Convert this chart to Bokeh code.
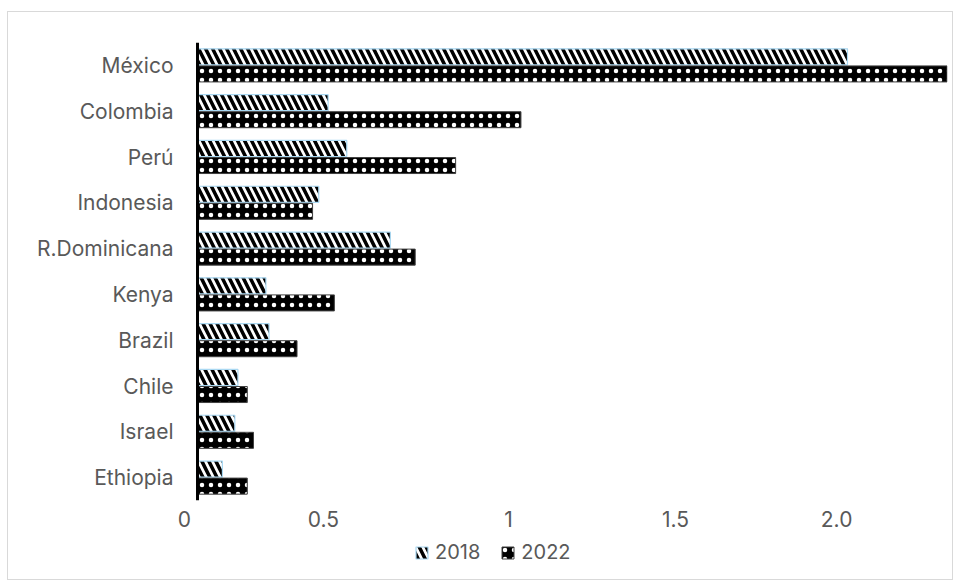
from bokeh.plotting import figure
from bokeh.layouts import column
from bokeh.models import (ColumnDataSource, FactorRange, Range1d, Span, Legend,
                          LegendItem, FixedTicker)
from bokeh.transform import dodge
from bokeh.embed import file_html
from bokeh.resources import INLINE

# Data
countries = ["México", "Colombia", "Perú", "Indonesia", "R.Dominicana",
             "Kenya", "Brazil", "Chile", "Israel", "Ethiopia"]
values_2018 = [2.09, 0.42, 0.48, 0.39, 0.62, 0.22, 0.23, 0.13, 0.12, 0.08]
values_2022 = [2.41, 1.04, 0.83, 0.37, 0.70, 0.44, 0.32, 0.16, 0.18, 0.16]
tick_values = [-0.042, 0.405, 1.0, 1.537, 2.055]
tick_labels = ["0", "0.5", "1", "1.5", "2.0"]

TEXT_COLOR = "#595959"
FONT = "Inter"

# Bar styles shared by the chart and its legend strip
STYLE_2018 = dict(fill_color="white", hatch_pattern="left_diagonal_line",
                  hatch_color="black", hatch_weight=3.5, hatch_scale=14,
                  line_color="#a9d8f2", line_width=1.2)
STYLE_2022 = dict(fill_color="black", hatch_pattern="dot",
                  hatch_color="white", hatch_weight=1, hatch_scale=9,
                  line_color="#404040", line_width=1)

source = ColumnDataSource(dict(country=countries, v2018=values_2018, v2022=values_2022))

p = figure(width=944, height=524,
           y_range=FactorRange(factors=list(reversed(countries))),
           x_range=Range1d(-0.0579, 2.4116),
           output_backend="svg", toolbar_location=None,
           min_border_left=171, min_border_right=5,
           min_border_top=30, min_border_bottom=36)
p.outline_line_color = None
p.xgrid.visible = False
p.ygrid.visible = False

p.hbar(y=dodge("country", 0.186, range=p.y_range), left=0, right="v2018",
       height=0.35, source=source, **STYLE_2018)
p.hbar(y=dodge("country", -0.186, range=p.y_range), left=0, right="v2022",
       height=0.35, source=source, **STYLE_2022)

# Vertical baseline at zero
p.add_layout(Span(location=0, dimension="height", line_color="black", line_width=3))

# X axis
p.xaxis.ticker = FixedTicker(ticks=tick_values)
p.xaxis.major_label_overrides = {t: l for t, l in zip(tick_values, tick_labels)}
p.xaxis.axis_line_color = None
p.xaxis.major_tick_line_color = None
p.xaxis.minor_tick_line_color = None
p.xaxis.major_tick_out = 0
p.xaxis.major_tick_in = 0
p.xaxis.major_label_standoff = 10
p.xaxis.major_label_text_font_size = "21px"
p.xaxis.major_label_text_color = TEXT_COLOR
p.xaxis.major_label_text_font = FONT

# Y axis
p.yaxis.axis_line_color = None
p.yaxis.major_tick_line_color = None
p.yaxis.minor_tick_line_color = None
p.yaxis.major_tick_out = 0
p.yaxis.major_tick_in = 0
p.yaxis.major_label_standoff = 6
p.yaxis.major_label_text_font_size = "21px"
p.yaxis.major_label_text_color = TEXT_COLOR
p.yaxis.major_label_text_font = FONT

# Legend strip underneath the chart (its frame lines up with the chart's frame)
lf = figure(width=944, height=43, x_range=Range1d(0, 1), y_range=Range1d(0, 1),
            output_backend="svg", toolbar_location=None,
            min_border_left=0, min_border_right=0, min_border_top=0, min_border_bottom=0)
lf.axis.visible = False
lf.grid.visible = False
lf.outline_line_color = None
nothing = float("nan")
swatch = ColumnDataSource(dict(y=[nothing], right=[nothing]))
k2018 = lf.hbar(y="y", right="right", left=0, height=0.5, source=swatch, **STYLE_2018)
k2022 = lf.hbar(y="y", right="right", left=0, height=0.5, source=swatch, **STYLE_2022)

legend = Legend(items=[LegendItem(label="2018", renderers=[k2018]),
                       LegendItem(label="2022", renderers=[k2022])],
                orientation="horizontal", location=(235, 15),
                border_line_color=None, background_fill_alpha=0,
                glyph_width=15, glyph_height=15, label_standoff=6,
                spacing=20, padding=2, margin=0,
                label_text_font_size="20px", label_text_color=TEXT_COLOR,
                label_text_font=FONT)
lf.add_layout(legend, "center")

page = column(p, lf, spacing=0, margin=(11, 0, 0, 7),
              styles={"border": "1px solid #d9d9d9"})

open("out.html", "w").write(file_html(page, INLINE))
